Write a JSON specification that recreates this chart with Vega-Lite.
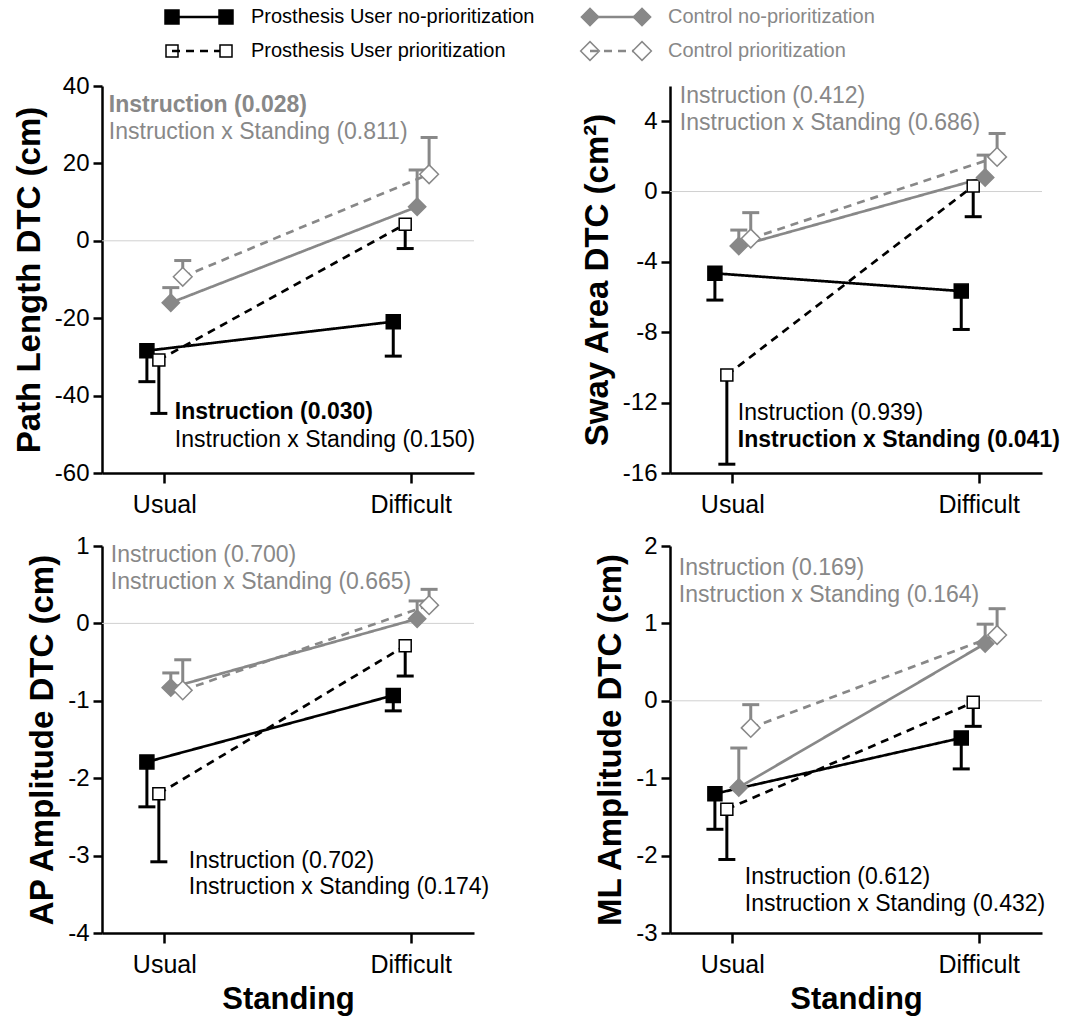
{
"$schema": "https://vega.github.io/schema/vega-lite/v6.json",
"padding": {"left": 13, "top": 0, "right": 5, "bottom": 5},
"background": "white",
"bounds": "flush",
"spacing": {"row": 73, "column": 196},
"columns": 2,
"resolve": {"scale": {"x": "independent", "y": "independent", "size": "shared", "shape": "shared", "fill": "shared", "stroke": "shared", "color": "shared", "strokeDash": "shared"}},
"config": {
  "view": {"stroke": null},
  "legend": {"disable": true},
  "font": "Liberation Sans",
  "axis": {"grid": false, "domainColor": "#000000", "domainWidth": 2.5, "tickColor": "#000000", "tickWidth": 2.5, "labelFont": "Liberation Sans", "labelFontSize": 24, "labelColor": "#000000", "titleFont": "Liberation Sans", "titleFontSize": 33, "titleFontWeight": "bold", "titleColor": "#000000"},
  "axisY": {"labelPadding": 4, "titlePadding": 8},
  "axisX": {"tickSize": 10, "labelAngle": 0, "labelFontSize": 25, "labelPadding": 9, "titlePadding": 7, "titleFontSize": 31},
  "text": {"font": "Liberation Sans"}
},
"datasets": {
  "obs": [
    {"panel": "PL", "series": "pu_no", "standing": "Usual", "value": -28.4, "errEnd": -36.4},
    {"panel": "PL", "series": "pu_no", "standing": "Difficult", "value": -20.9, "errEnd": -29.8},
    {"panel": "PL", "series": "pu_pri", "standing": "Usual", "value": -30.8, "errEnd": -44.6},
    {"panel": "PL", "series": "pu_pri", "standing": "Difficult", "value": 4.3, "errEnd": -2.0},
    {"panel": "PL", "series": "c_no", "standing": "Usual", "value": -16.0, "errEnd": -12.1},
    {"panel": "PL", "series": "c_no", "standing": "Difficult", "value": 8.8, "errEnd": 18.3},
    {"panel": "PL", "series": "c_pri", "standing": "Usual", "value": -9.3, "errEnd": -5.1},
    {"panel": "PL", "series": "c_pri", "standing": "Difficult", "value": 17.2, "errEnd": 26.7},
    {"panel": "SA", "series": "pu_no", "standing": "Usual", "value": -4.65, "errEnd": -6.17},
    {"panel": "SA", "series": "pu_no", "standing": "Difficult", "value": -5.66, "errEnd": -7.84},
    {"panel": "SA", "series": "pu_pri", "standing": "Usual", "value": -10.43, "errEnd": -15.5},
    {"panel": "SA", "series": "pu_pri", "standing": "Difficult", "value": 0.31, "errEnd": -1.43},
    {"panel": "SA", "series": "c_no", "standing": "Usual", "value": -3.1, "errEnd": -2.19},
    {"panel": "SA", "series": "c_no", "standing": "Difficult", "value": 0.8, "errEnd": 2.07},
    {"panel": "SA", "series": "c_pri", "standing": "Usual", "value": -2.67, "errEnd": -1.2},
    {"panel": "SA", "series": "c_pri", "standing": "Difficult", "value": 1.97, "errEnd": 3.3},
    {"panel": "AP", "series": "pu_no", "standing": "Usual", "value": -1.79, "errEnd": -2.37},
    {"panel": "AP", "series": "pu_no", "standing": "Difficult", "value": -0.93, "errEnd": -1.13},
    {"panel": "AP", "series": "pu_pri", "standing": "Usual", "value": -2.2, "errEnd": -3.08},
    {"panel": "AP", "series": "pu_pri", "standing": "Difficult", "value": -0.29, "errEnd": -0.68},
    {"panel": "AP", "series": "c_no", "standing": "Usual", "value": -0.83, "errEnd": -0.64},
    {"panel": "AP", "series": "c_no", "standing": "Difficult", "value": 0.06, "errEnd": 0.29},
    {"panel": "AP", "series": "c_pri", "standing": "Usual", "value": -0.865, "errEnd": -0.47},
    {"panel": "AP", "series": "c_pri", "standing": "Difficult", "value": 0.236, "errEnd": 0.44},
    {"panel": "ML", "series": "pu_no", "standing": "Usual", "value": -1.2, "errEnd": -1.66},
    {"panel": "ML", "series": "pu_no", "standing": "Difficult", "value": -0.48, "errEnd": -0.88},
    {"panel": "ML", "series": "pu_pri", "standing": "Usual", "value": -1.4, "errEnd": -2.05},
    {"panel": "ML", "series": "pu_pri", "standing": "Difficult", "value": -0.02, "errEnd": -0.33},
    {"panel": "ML", "series": "c_no", "standing": "Usual", "value": -1.12, "errEnd": -0.61},
    {"panel": "ML", "series": "c_no", "standing": "Difficult", "value": 0.74, "errEnd": 0.99},
    {"panel": "ML", "series": "c_pri", "standing": "Usual", "value": -0.35, "errEnd": -0.05},
    {"panel": "ML", "series": "c_pri", "standing": "Difficult", "value": 0.85, "errEnd": 1.19}
  ]
},
"concat": [
  {
    "width": 372, "height": 13,
    "data": {"values": [{"series": "pu_no", "label": "Prosthesis User no-prioritization"}, {"series": "pu_pri", "label": "Prosthesis User prioritization"}]},
    "encoding": {"y": {"field": "series", "type": "nominal", "scale": {"type": "point", "padding": 0, "domain": ["pu_no", "pu_pri"], "range": [17, 51]}, "axis": null}},
    "layer": [
      {"mark": {"type": "point", "filled": true, "opacity": 1, "strokeWidth": 1.5},
       "encoding": {"x": {"datum": 0, "type": "quantitative", "scale": {"domain": [0, 1], "range": [70, 124]}, "axis": null},
         "shape": {"field": "series", "type": "nominal", "scale": {"domain": ["pu_no","pu_pri","c_no","c_pri"], "range": ["square","square","diamond","diamond"]}, "legend": null},
         "fill": {"field": "series", "type": "nominal", "scale": {"domain": ["pu_no","pu_pri","c_no","c_pri"], "range": ["#000000","#ffffff","#888888","#ffffff"]}, "legend": null},
         "stroke": {"field": "series", "type": "nominal", "scale": {"domain": ["pu_no","pu_pri","c_no","c_pri"], "range": ["#000000","#000000","#888888","#888888"]}, "legend": null},
         "size": {"field": "series", "type": "nominal", "scale": {"type": "ordinal", "domain": ["pu_no","pu_pri","c_no","c_pri"], "range": [196,144,300,350]}, "legend": null}}},
      {"mark": {"type": "rule", "strokeWidth": 2.7},
       "encoding": {"x": {"datum": 0, "type": "quantitative", "axis": null}, "x2": {"datum": 1},
         "color": {"field": "series", "type": "nominal", "scale": {"domain": ["pu_no","pu_pri","c_no","c_pri"], "range": ["#000000","#000000","#888888","#888888"]}, "legend": null},
         "strokeDash": {"field": "series", "type": "nominal", "scale": {"domain": ["pu_no","pu_pri","c_no","c_pri"], "range": [[1,0],[8,6],[1,0],[8,6]]}, "legend": null}}},
      {"mark": {"type": "point", "filled": true, "opacity": 1, "strokeWidth": 1.5},
       "encoding": {"x": {"datum": 1, "type": "quantitative", "axis": null},
         "shape": {"field": "series", "type": "nominal", "scale": {"domain": ["pu_no","pu_pri","c_no","c_pri"], "range": ["square","square","diamond","diamond"]}, "legend": null},
         "fill": {"field": "series", "type": "nominal", "scale": {"domain": ["pu_no","pu_pri","c_no","c_pri"], "range": ["#000000","#ffffff","#888888","#ffffff"]}, "legend": null},
         "stroke": {"field": "series", "type": "nominal", "scale": {"domain": ["pu_no","pu_pri","c_no","c_pri"], "range": ["#000000","#000000","#888888","#888888"]}, "legend": null},
         "size": {"field": "series", "type": "nominal", "scale": {"type": "ordinal", "domain": ["pu_no","pu_pri","c_no","c_pri"], "range": [196,144,300,350]}, "legend": null}}},
      {"mark": {"type": "text", "align": "left", "baseline": "middle", "dx": 25, "fontSize": 20},
       "encoding": {"x": {"datum": 1, "type": "quantitative", "axis": null}, "text": {"field": "label"},
         "color": {"field": "series", "type": "nominal", "scale": {"domain": ["pu_no","pu_pri","c_no","c_pri"], "range": ["#000000","#000000","#888888","#888888"]}, "legend": null}}}
    ]
  },
  {
    "width": 372, "height": 13,
    "data": {"values": [{"series": "c_no", "label": "Control no-prioritization"}, {"series": "c_pri", "label": "Control prioritization"}]},
    "encoding": {"y": {"field": "series", "type": "nominal", "scale": {"type": "point", "padding": 0, "domain": ["c_no", "c_pri"], "range": [17, 51]}, "axis": null}},
    "layer": [
      {"mark": {"type": "point", "filled": true, "opacity": 1, "strokeWidth": 1.5},
       "encoding": {"x": {"datum": 0, "type": "quantitative", "scale": {"domain": [0, 1], "range": [-80, -28]}, "axis": null},
         "shape": {"field": "series", "type": "nominal", "scale": {"domain": ["pu_no","pu_pri","c_no","c_pri"], "range": ["square","square","diamond","diamond"]}, "legend": null},
         "fill": {"field": "series", "type": "nominal", "scale": {"domain": ["pu_no","pu_pri","c_no","c_pri"], "range": ["#000000","#ffffff","#888888","#ffffff"]}, "legend": null},
         "stroke": {"field": "series", "type": "nominal", "scale": {"domain": ["pu_no","pu_pri","c_no","c_pri"], "range": ["#000000","#000000","#888888","#888888"]}, "legend": null},
         "size": {"field": "series", "type": "nominal", "scale": {"type": "ordinal", "domain": ["pu_no","pu_pri","c_no","c_pri"], "range": [196,144,300,350]}, "legend": null}}},
      {"mark": {"type": "rule", "strokeWidth": 2.7},
       "encoding": {"x": {"datum": 0, "type": "quantitative", "axis": null}, "x2": {"datum": 1},
         "color": {"field": "series", "type": "nominal", "scale": {"domain": ["pu_no","pu_pri","c_no","c_pri"], "range": ["#000000","#000000","#888888","#888888"]}, "legend": null},
         "strokeDash": {"field": "series", "type": "nominal", "scale": {"domain": ["pu_no","pu_pri","c_no","c_pri"], "range": [[1,0],[8,6],[1,0],[8,6]]}, "legend": null}}},
      {"mark": {"type": "point", "filled": true, "opacity": 1, "strokeWidth": 1.5},
       "encoding": {"x": {"datum": 1, "type": "quantitative", "axis": null},
         "shape": {"field": "series", "type": "nominal", "scale": {"domain": ["pu_no","pu_pri","c_no","c_pri"], "range": ["square","square","diamond","diamond"]}, "legend": null},
         "fill": {"field": "series", "type": "nominal", "scale": {"domain": ["pu_no","pu_pri","c_no","c_pri"], "range": ["#000000","#ffffff","#888888","#ffffff"]}, "legend": null},
         "stroke": {"field": "series", "type": "nominal", "scale": {"domain": ["pu_no","pu_pri","c_no","c_pri"], "range": ["#000000","#000000","#888888","#888888"]}, "legend": null},
         "size": {"field": "series", "type": "nominal", "scale": {"type": "ordinal", "domain": ["pu_no","pu_pri","c_no","c_pri"], "range": [196,144,300,350]}, "legend": null}}},
      {"mark": {"type": "text", "align": "left", "baseline": "middle", "dx": 26, "fontSize": 20},
       "encoding": {"x": {"datum": 1, "type": "quantitative", "axis": null}, "text": {"field": "label"},
         "color": {"field": "series", "type": "nominal", "scale": {"domain": ["pu_no","pu_pri","c_no","c_pri"], "range": ["#000000","#000000","#888888","#888888"]}, "legend": null}}}
    ]
  },
  {
    "width": 372, "height": 387,
    "layer": [
      {"data": {"values": [{}]}, "mark": {"type": "rule", "color": "#d0d0d0", "strokeWidth": 1},
       "encoding": {"y": {"datum": 0, "type": "quantitative", "scale": {"domain": [-60, 40], "nice": false, "zero": false},
         "axis": {"title": "Path Length DTC (cm)", "values": [-60,-50,-40,-30,-20,-10,0,10,20,30,40], "labelExpr": "datum.value % 20 === 0 ? '' + datum.value : ''", "tickSize": {"condition": {"test": "datum.value % 20 === 0", "value": 9}, "value": 5}}}}},
      {"data": {"name": "obs"}, "transform": [{"filter": "datum.panel === 'PL'"}],
       "encoding": {
         "x": {"field": "standing", "type": "nominal", "scale": {"type": "band", "domain": ["Usual","Difficult"], "paddingInner": 0.806, "paddingOuter": 0.158}, "axis": {"title": null}},
         "xOffset": {"field": "series", "type": "nominal", "scale": {"domain": ["pu_no","pu_pri","c_no","c_pri"], "paddingInner": 0, "paddingOuter": 0}}},
       "layer": [
         {"mark": {"type": "line", "strokeWidth": 2.7}, "encoding": {"y": {"field": "value", "type": "quantitative"},
           "color": {"field": "series", "type": "nominal", "scale": {"domain": ["pu_no","pu_pri","c_no","c_pri"], "range": ["#000000","#000000","#888888","#888888"]}, "legend": null},
           "strokeDash": {"field": "series", "type": "nominal", "scale": {"domain": ["pu_no","pu_pri","c_no","c_pri"], "range": [[1,0],[8,6],[1,0],[8,6]]}, "legend": null}}},
         {"mark": {"type": "rule", "strokeWidth": 3}, "encoding": {"y": {"field": "value", "type": "quantitative"}, "y2": {"field": "errEnd"},
           "color": {"field": "series", "type": "nominal", "scale": {"domain": ["pu_no","pu_pri","c_no","c_pri"], "range": ["#000000","#000000","#888888","#888888"]}, "legend": null}}},
         {"mark": {"type": "point", "shape": "M-1,0L1,0", "size": 289, "strokeWidth": 3, "filled": false, "opacity": 1}, "encoding": {"y": {"field": "errEnd", "type": "quantitative"},
           "stroke": {"field": "series", "type": "nominal", "scale": {"domain": ["pu_no","pu_pri","c_no","c_pri"], "range": ["#000000","#000000","#888888","#888888"]}, "legend": null}}},
         {"mark": {"type": "point", "filled": true, "opacity": 1, "strokeWidth": 1.5}, "encoding": {"y": {"field": "value", "type": "quantitative"},
           "shape": {"field": "series", "type": "nominal", "scale": {"domain": ["pu_no","pu_pri","c_no","c_pri"], "range": ["square","square","diamond","diamond"]}, "legend": null},
           "fill": {"field": "series", "type": "nominal", "scale": {"domain": ["pu_no","pu_pri","c_no","c_pri"], "range": ["#000000","#ffffff","#888888","#ffffff"]}, "legend": null},
           "stroke": {"field": "series", "type": "nominal", "scale": {"domain": ["pu_no","pu_pri","c_no","c_pri"], "range": ["#000000","#000000","#888888","#888888"]}, "legend": null},
           "size": {"field": "series", "type": "nominal", "scale": {"type": "ordinal", "domain": ["pu_no","pu_pri","c_no","c_pri"], "range": [196,144,300,350]}, "legend": null}}}
       ]},
      {"data": {"values": [{}]}, "mark": {"type": "text", "text": "Instruction (0.028)", "align": "left", "baseline": "middle", "dx": -56, "fontSize": 23, "fontWeight": "bold", "color": "#888888"}, "encoding": {"x": {"datum": "Usual", "type": "nominal"}, "y": {"datum": 35.1, "type": "quantitative"}}},
      {"data": {"values": [{}]}, "mark": {"type": "text", "text": "Instruction x Standing (0.811)", "align": "left", "baseline": "middle", "dx": -56, "fontSize": 23, "color": "#888888"}, "encoding": {"x": {"datum": "Usual", "type": "nominal"}, "y": {"datum": 28.1, "type": "quantitative"}}},
      {"data": {"values": [{}]}, "mark": {"type": "text", "text": "Instruction (0.030)", "align": "left", "baseline": "middle", "dx": 10, "fontSize": 23, "fontWeight": "bold", "color": "#000000"}, "encoding": {"x": {"datum": "Usual", "type": "nominal"}, "y": {"datum": -44.2, "type": "quantitative"}}},
      {"data": {"values": [{}]}, "mark": {"type": "text", "text": "Instruction x Standing (0.150)", "align": "left", "baseline": "middle", "dx": 10, "fontSize": 23, "color": "#000000"}, "encoding": {"x": {"datum": "Usual", "type": "nominal"}, "y": {"datum": -51.5, "type": "quantitative"}}}
    ]
  },
  {
    "width": 372, "height": 387,
    "layer": [
      {"data": {"values": [{}]}, "mark": {"type": "rule", "color": "#d0d0d0", "strokeWidth": 1},
       "encoding": {"y": {"datum": 0, "type": "quantitative", "scale": {"domain": [-16, 6], "nice": false, "zero": false},
         "axis": {"title": "Sway Area DTC (cm²)", "values": [-16,-14,-12,-10,-8,-6,-4,-2,0,2,4,6], "labelExpr": "datum.value % 4 === 0 ? '' + datum.value : ''", "tickSize": {"condition": {"test": "datum.value % 4 === 0", "value": 9}, "value": 5}}}}},
      {"data": {"name": "obs"}, "transform": [{"filter": "datum.panel === 'SA'"}],
       "encoding": {
         "x": {"field": "standing", "type": "nominal", "scale": {"type": "band", "domain": ["Usual","Difficult"], "paddingInner": 0.806, "paddingOuter": 0.158}, "axis": {"title": null}},
         "xOffset": {"field": "series", "type": "nominal", "scale": {"domain": ["pu_no","pu_pri","c_no","c_pri"], "paddingInner": 0, "paddingOuter": 0}}},
       "layer": [
         {"mark": {"type": "line", "strokeWidth": 2.7}, "encoding": {"y": {"field": "value", "type": "quantitative"},
           "color": {"field": "series", "type": "nominal", "scale": {"domain": ["pu_no","pu_pri","c_no","c_pri"], "range": ["#000000","#000000","#888888","#888888"]}, "legend": null},
           "strokeDash": {"field": "series", "type": "nominal", "scale": {"domain": ["pu_no","pu_pri","c_no","c_pri"], "range": [[1,0],[8,6],[1,0],[8,6]]}, "legend": null}}},
         {"mark": {"type": "rule", "strokeWidth": 3}, "encoding": {"y": {"field": "value", "type": "quantitative"}, "y2": {"field": "errEnd"},
           "color": {"field": "series", "type": "nominal", "scale": {"domain": ["pu_no","pu_pri","c_no","c_pri"], "range": ["#000000","#000000","#888888","#888888"]}, "legend": null}}},
         {"mark": {"type": "point", "shape": "M-1,0L1,0", "size": 289, "strokeWidth": 3, "filled": false, "opacity": 1}, "encoding": {"y": {"field": "errEnd", "type": "quantitative"},
           "stroke": {"field": "series", "type": "nominal", "scale": {"domain": ["pu_no","pu_pri","c_no","c_pri"], "range": ["#000000","#000000","#888888","#888888"]}, "legend": null}}},
         {"mark": {"type": "point", "filled": true, "opacity": 1, "strokeWidth": 1.5}, "encoding": {"y": {"field": "value", "type": "quantitative"},
           "shape": {"field": "series", "type": "nominal", "scale": {"domain": ["pu_no","pu_pri","c_no","c_pri"], "range": ["square","square","diamond","diamond"]}, "legend": null},
           "fill": {"field": "series", "type": "nominal", "scale": {"domain": ["pu_no","pu_pri","c_no","c_pri"], "range": ["#000000","#ffffff","#888888","#ffffff"]}, "legend": null},
           "stroke": {"field": "series", "type": "nominal", "scale": {"domain": ["pu_no","pu_pri","c_no","c_pri"], "range": ["#000000","#000000","#888888","#888888"]}, "legend": null},
           "size": {"field": "series", "type": "nominal", "scale": {"type": "ordinal", "domain": ["pu_no","pu_pri","c_no","c_pri"], "range": [196,144,300,350]}, "legend": null}}}
       ]},
      {"data": {"values": [{}]}, "mark": {"type": "text", "text": "Instruction (0.412)", "align": "left", "baseline": "middle", "dx": -53, "fontSize": 23, "color": "#888888"}, "encoding": {"x": {"datum": "Usual", "type": "nominal"}, "y": {"datum": 5.42, "type": "quantitative"}}},
      {"data": {"values": [{}]}, "mark": {"type": "text", "text": "Instruction x Standing (0.686)", "align": "left", "baseline": "middle", "dx": -53, "fontSize": 23, "color": "#888888"}, "encoding": {"x": {"datum": "Usual", "type": "nominal"}, "y": {"datum": 3.87, "type": "quantitative"}}},
      {"data": {"values": [{}]}, "mark": {"type": "text", "text": "Instruction (0.939)", "align": "left", "baseline": "middle", "dx": 5, "fontSize": 23, "color": "#000000"}, "encoding": {"x": {"datum": "Usual", "type": "nominal"}, "y": {"datum": -12.6, "type": "quantitative"}}},
      {"data": {"values": [{}]}, "mark": {"type": "text", "text": "Instruction x Standing (0.041)", "align": "left", "baseline": "middle", "dx": 5, "fontSize": 23, "fontWeight": "bold", "color": "#000000"}, "encoding": {"x": {"datum": "Usual", "type": "nominal"}, "y": {"datum": -14.1, "type": "quantitative"}}}
    ]
  },
  {
    "width": 372, "height": 387,
    "layer": [
      {"data": {"values": [{}]}, "mark": {"type": "rule", "color": "#d0d0d0", "strokeWidth": 1},
       "encoding": {"y": {"datum": 0, "type": "quantitative", "scale": {"domain": [-4, 1], "nice": false, "zero": false},
         "axis": {"title": "AP Amplitude DTC (cm)", "values": [-4,-3.5,-3,-2.5,-2,-1.5,-1,-0.5,0,0.5,1], "labelExpr": "datum.value % 1 === 0 ? '' + datum.value : ''", "tickSize": {"condition": {"test": "datum.value % 1 === 0", "value": 9}, "value": 5}}}}},
      {"data": {"name": "obs"}, "transform": [{"filter": "datum.panel === 'AP'"}],
       "encoding": {
         "x": {"field": "standing", "type": "nominal", "scale": {"type": "band", "domain": ["Usual","Difficult"], "paddingInner": 0.806, "paddingOuter": 0.158}, "axis": {"title": "Standing"}},
         "xOffset": {"field": "series", "type": "nominal", "scale": {"domain": ["pu_no","pu_pri","c_no","c_pri"], "paddingInner": 0, "paddingOuter": 0}}},
       "layer": [
         {"mark": {"type": "line", "strokeWidth": 2.7}, "encoding": {"y": {"field": "value", "type": "quantitative"},
           "color": {"field": "series", "type": "nominal", "scale": {"domain": ["pu_no","pu_pri","c_no","c_pri"], "range": ["#000000","#000000","#888888","#888888"]}, "legend": null},
           "strokeDash": {"field": "series", "type": "nominal", "scale": {"domain": ["pu_no","pu_pri","c_no","c_pri"], "range": [[1,0],[8,6],[1,0],[8,6]]}, "legend": null}}},
         {"mark": {"type": "rule", "strokeWidth": 3}, "encoding": {"y": {"field": "value", "type": "quantitative"}, "y2": {"field": "errEnd"},
           "color": {"field": "series", "type": "nominal", "scale": {"domain": ["pu_no","pu_pri","c_no","c_pri"], "range": ["#000000","#000000","#888888","#888888"]}, "legend": null}}},
         {"mark": {"type": "point", "shape": "M-1,0L1,0", "size": 289, "strokeWidth": 3, "filled": false, "opacity": 1}, "encoding": {"y": {"field": "errEnd", "type": "quantitative"},
           "stroke": {"field": "series", "type": "nominal", "scale": {"domain": ["pu_no","pu_pri","c_no","c_pri"], "range": ["#000000","#000000","#888888","#888888"]}, "legend": null}}},
         {"mark": {"type": "point", "filled": true, "opacity": 1, "strokeWidth": 1.5}, "encoding": {"y": {"field": "value", "type": "quantitative"},
           "shape": {"field": "series", "type": "nominal", "scale": {"domain": ["pu_no","pu_pri","c_no","c_pri"], "range": ["square","square","diamond","diamond"]}, "legend": null},
           "fill": {"field": "series", "type": "nominal", "scale": {"domain": ["pu_no","pu_pri","c_no","c_pri"], "range": ["#000000","#ffffff","#888888","#ffffff"]}, "legend": null},
           "stroke": {"field": "series", "type": "nominal", "scale": {"domain": ["pu_no","pu_pri","c_no","c_pri"], "range": ["#000000","#000000","#888888","#888888"]}, "legend": null},
           "size": {"field": "series", "type": "nominal", "scale": {"type": "ordinal", "domain": ["pu_no","pu_pri","c_no","c_pri"], "range": [196,144,300,350]}, "legend": null}}}
       ]},
      {"data": {"values": [{}]}, "mark": {"type": "text", "text": "Instruction (0.700)", "align": "left", "baseline": "middle", "dx": -54, "fontSize": 23, "color": "#888888"}, "encoding": {"x": {"datum": "Usual", "type": "nominal"}, "y": {"datum": 0.88, "type": "quantitative"}}},
      {"data": {"values": [{}]}, "mark": {"type": "text", "text": "Instruction x Standing (0.665)", "align": "left", "baseline": "middle", "dx": -54, "fontSize": 23, "color": "#888888"}, "encoding": {"x": {"datum": "Usual", "type": "nominal"}, "y": {"datum": 0.54, "type": "quantitative"}}},
      {"data": {"values": [{}]}, "mark": {"type": "text", "text": "Instruction (0.702)", "align": "left", "baseline": "middle", "dx": 24, "fontSize": 23, "color": "#000000"}, "encoding": {"x": {"datum": "Usual", "type": "nominal"}, "y": {"datum": -3.07, "type": "quantitative"}}},
      {"data": {"values": [{}]}, "mark": {"type": "text", "text": "Instruction x Standing (0.174)", "align": "left", "baseline": "middle", "dx": 24, "fontSize": 23, "color": "#000000"}, "encoding": {"x": {"datum": "Usual", "type": "nominal"}, "y": {"datum": -3.41, "type": "quantitative"}}}
    ]
  },
  {
    "width": 372, "height": 387,
    "layer": [
      {"data": {"values": [{}]}, "mark": {"type": "rule", "color": "#d0d0d0", "strokeWidth": 1},
       "encoding": {"y": {"datum": 0, "type": "quantitative", "scale": {"domain": [-3, 2], "nice": false, "zero": false},
         "axis": {"title": "ML Amplitude DTC (cm)", "values": [-3,-2.5,-2,-1.5,-1,-0.5,0,0.5,1,1.5,2], "labelExpr": "datum.value % 1 === 0 ? '' + datum.value : ''", "tickSize": {"condition": {"test": "datum.value % 1 === 0", "value": 9}, "value": 5}}}}},
      {"data": {"name": "obs"}, "transform": [{"filter": "datum.panel === 'ML'"}],
       "encoding": {
         "x": {"field": "standing", "type": "nominal", "scale": {"type": "band", "domain": ["Usual","Difficult"], "paddingInner": 0.806, "paddingOuter": 0.158}, "axis": {"title": "Standing"}},
         "xOffset": {"field": "series", "type": "nominal", "scale": {"domain": ["pu_no","pu_pri","c_no","c_pri"], "paddingInner": 0, "paddingOuter": 0}}},
       "layer": [
         {"mark": {"type": "line", "strokeWidth": 2.7}, "encoding": {"y": {"field": "value", "type": "quantitative"},
           "color": {"field": "series", "type": "nominal", "scale": {"domain": ["pu_no","pu_pri","c_no","c_pri"], "range": ["#000000","#000000","#888888","#888888"]}, "legend": null},
           "strokeDash": {"field": "series", "type": "nominal", "scale": {"domain": ["pu_no","pu_pri","c_no","c_pri"], "range": [[1,0],[8,6],[1,0],[8,6]]}, "legend": null}}},
         {"mark": {"type": "rule", "strokeWidth": 3}, "encoding": {"y": {"field": "value", "type": "quantitative"}, "y2": {"field": "errEnd"},
           "color": {"field": "series", "type": "nominal", "scale": {"domain": ["pu_no","pu_pri","c_no","c_pri"], "range": ["#000000","#000000","#888888","#888888"]}, "legend": null}}},
         {"mark": {"type": "point", "shape": "M-1,0L1,0", "size": 289, "strokeWidth": 3, "filled": false, "opacity": 1}, "encoding": {"y": {"field": "errEnd", "type": "quantitative"},
           "stroke": {"field": "series", "type": "nominal", "scale": {"domain": ["pu_no","pu_pri","c_no","c_pri"], "range": ["#000000","#000000","#888888","#888888"]}, "legend": null}}},
         {"mark": {"type": "point", "filled": true, "opacity": 1, "strokeWidth": 1.5}, "encoding": {"y": {"field": "value", "type": "quantitative"},
           "shape": {"field": "series", "type": "nominal", "scale": {"domain": ["pu_no","pu_pri","c_no","c_pri"], "range": ["square","square","diamond","diamond"]}, "legend": null},
           "fill": {"field": "series", "type": "nominal", "scale": {"domain": ["pu_no","pu_pri","c_no","c_pri"], "range": ["#000000","#ffffff","#888888","#ffffff"]}, "legend": null},
           "stroke": {"field": "series", "type": "nominal", "scale": {"domain": ["pu_no","pu_pri","c_no","c_pri"], "range": ["#000000","#000000","#888888","#888888"]}, "legend": null},
           "size": {"field": "series", "type": "nominal", "scale": {"type": "ordinal", "domain": ["pu_no","pu_pri","c_no","c_pri"], "range": [196,144,300,350]}, "legend": null}}}
       ]},
      {"data": {"values": [{}]}, "mark": {"type": "text", "text": "Instruction (0.169)", "align": "left", "baseline": "middle", "dx": -54, "fontSize": 23, "color": "#888888"}, "encoding": {"x": {"datum": "Usual", "type": "nominal"}, "y": {"datum": 1.71, "type": "quantitative"}}},
      {"data": {"values": [{}]}, "mark": {"type": "text", "text": "Instruction x Standing (0.164)", "align": "left", "baseline": "middle", "dx": -54, "fontSize": 23, "color": "#888888"}, "encoding": {"x": {"datum": "Usual", "type": "nominal"}, "y": {"datum": 1.37, "type": "quantitative"}}},
      {"data": {"values": [{}]}, "mark": {"type": "text", "text": "Instruction (0.612)", "align": "left", "baseline": "middle", "dx": 12, "fontSize": 23, "color": "#000000"}, "encoding": {"x": {"datum": "Usual", "type": "nominal"}, "y": {"datum": -2.28, "type": "quantitative"}}},
      {"data": {"values": [{}]}, "mark": {"type": "text", "text": "Instruction x Standing (0.432)", "align": "left", "baseline": "middle", "dx": 12, "fontSize": 23, "color": "#000000"}, "encoding": {"x": {"datum": "Usual", "type": "nominal"}, "y": {"datum": -2.63, "type": "quantitative"}}}
    ]
  }
]
}
